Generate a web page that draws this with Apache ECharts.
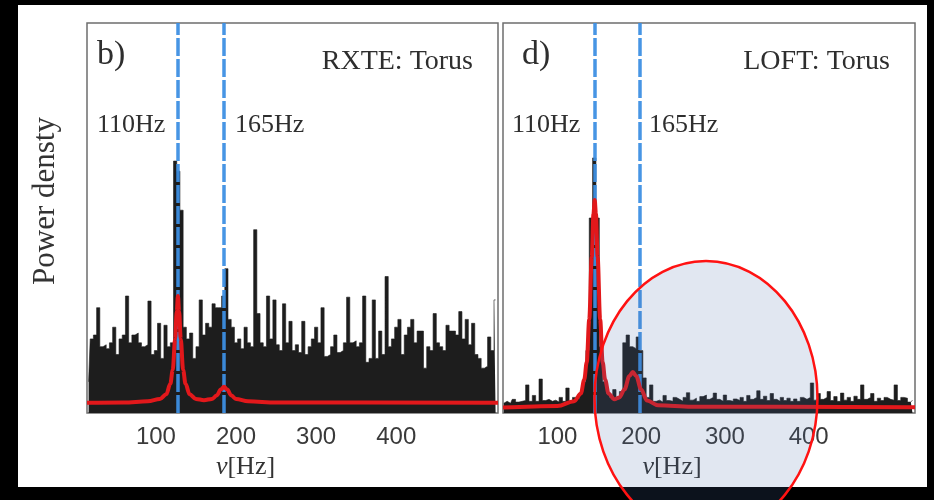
<!DOCTYPE html>
<html>
<head>
<meta charset="utf-8">
<script src="https://cdn.jsdelivr.net/npm/echarts@6/dist/echarts.min.js"></script>
<style>
html,body{margin:0;padding:0;background:#000;}
#chart{width:934px;height:500px;}
</style>
</head>
<body>
<div id="chart"></div>
<script>
// ---------- data ----------
const tickLabels = [100, 200, 300, 400];

// RXTE panel (b): frequency bins [Hz] and power density (arbitrary units)
const freqL = [
  16,20,24,28,32,36,40,44,
  48,52,56,60,64,68,72,76,
  80,84,88,92,96,100,104,108,
  112,116,120,124,128,132,136,140,
  144,148,152,156,160,164,168,172,
  176,180,184,188,192,196,200,204,
  208,212,216,220,224,228,232,236,
  240,244,248,252,256,260,264,268,
  272,276,280,284,288,292,296,300,
  304,308,312,316,320,324,328,332,
  336,340,344,348,352,356,360,364,
  368,372,376,380,384,388,392,396,
  400,404,408,412,416,420,424,428,
  432,436,440,444,448,452,456,460,
  464,468,472,476,480,484,488,492,
  496,500,504,508,512,516,520,524
];
const powL = [
  8,19,20,27,17,17.5,16.5,18,
  22,15,19,20,30,18,20,20.5,
  18,17,17.5,28.7,15,16,23,14,
  22.5,17,18,64.6,62,52,22,19,
  20.5,14,17,29,20,23,22,28,
  27,27,30,37,24,22,18,19,
  16.5,22,18,17,47,25.5,18,17,
  30,19,29,17.5,16,28,18,23.5,
  16,17.5,15.5,23.5,15,17,19,22,
  18,27,14.5,15,17,20,15.5,16,
  18,29.7,18,18.5,17,18,30,13,
  14,29,14,21,15,35,17,19,
  22,24,15,20,22,24,18,21,
  21,11.5,17,16,25.5,18,17,16,
  22.5,21,21,20,26,19,24,17.5,
  23,15,14,11.5,12,19.5,16,29
];
// Lorentzian fit (red) for RXTE panel
const fitLx = [14,60,90,105,113,118,121,124,126,127.5,129,131,134,137,142,150,160,170,176,181,185,189,194,200,215,250,527];
const fitLy = [2.6,2.7,3.0,3.6,4.8,7.5,11,19,26,30,26,19,11,7.5,4.8,3.6,3.3,3.6,4.5,6,6.7,6,4.5,3.6,3.0,2.7,2.6];
const linesL = [127.5, 185];

// LOFT panel (d)
const freqR = [
  36,40,44,48,52,56,60,64,
  68,72,76,80,84,88,92,96,
  100,104,108,112,116,120,124,128,
  132,136,140,144,148,152,156,160,
  164,168,172,176,180,184,188,192,
  196,200,204,208,212,216,220,224,
  228,232,236,240,244,248,252,256,
  260,264,268,272,276,280,284,288,
  292,296,300,304,308,312,316,320,
  324,328,332,336,340,344,348,352,
  356,360,364,368,372,376,380,384,
  388,392,396,400,404,408,412,416,
  420,424,428,432,436,440,444,448,
  452,456,460,464,468,472,476,480,
  484,488,492,496,500,504,508,512,
  516,520,524
];
const powR = [
  2.5,3,2.5,3.5,2.8,3,3.2,7.2,
  3,4.5,3,8.7,3.2,3.5,3,3.3,
  2.8,4,3,6.4,3,4,3.5,5,
  8,16,50,65.4,50,17,8,5,
  4,6,4,5.5,18,20,17,16.5,
  19.5,16,9,4,7.2,3,3.3,2.8,
  4.5,3.2,3,4,3.5,3,4,5.2,
  3.3,3.8,3,4.2,4.6,3.5,4,5.1,
  3.5,3,4.6,3.2,3,3.6,3.2,4,
  3,4.5,3.5,4,5.7,3.5,4.3,3.2,
  5,3.5,3,4,3.2,3.8,3,3.6,
  3,4,3.5,4,7.7,3.3,5,3.5,
  4,5.5,3.2,4.2,3,5.1,3.3,4,
  3,4.3,3.5,7.2,3.5,4,5,3,
  3.8,3.2,4,3.5,3.3,7.2,3.2,4,
  3.8,2.8,3.3
];
const fitRx = [35,100,120,128,132,135,138,141,143,144.5,146,148,151,154,157,161,168,174,180,186,190,194,200,207,220,260,527];
const fitRy = [1.4,1.8,3,5,8.5,13,24,40,51,54.6,51,40,24,13,8.5,5,3.5,4,6,9.5,10.5,9.5,6,3.2,2,1.6,1.5];
const linesR = [144.5, 198];

// ---------- helpers ----------
const zip = (a, b) => a.map((v, i) => [v, b[i]]);
const SERIF = '"Liberation Serif", "Times New Roman", serif';
const SANS = '"Liberation Sans", Arial, sans-serif';
const TXT = '#2e2e2e';

function xAxisFor(idx, min, max, padRight) {
  return {
    type: 'value', gridIndex: idx, min: min, max: max,
    splitLine: {show: false}, axisLine: {show: false}, axisTick: {show: false},
    axisLabel: {customValues: tickLabels, fontSize: 24, color: '#3a3a3a', fontFamily: SANS, margin: 12},
    name: '{i|ν}[Hz]', nameLocation: 'middle', nameGap: 39,
    nameTextStyle: {
      fontFamily: SERIF, fontSize: 26, color: '#333', padding: [0, padRight, 0, 0],
      rich: {i: {fontFamily: SERIF, fontStyle: 'italic', fontSize: 26, color: '#333'}}
    }
  };
}
function yAxisFor(idx, withName) {
  const a = {
    type: 'value', gridIndex: idx, min: 0, max: 100,
    splitLine: {show: false}, axisLine: {show: false}, axisTick: {show: false}, axisLabel: {show: false}
  };
  if (withName) {
    a.name = 'Power densty';
    a.nameLocation = 'middle';
    a.nameRotate = 90;
    a.nameGap = 26;
    a.nameTextStyle = {fontFamily: SERIF, fontSize: 31, color: '#333', padding: [0, 0, 0, 34]};
  }
  return a;
}
function spectrum(idx, fx, py, lines) {
  return {
    type: 'line', xAxisIndex: idx, yAxisIndex: idx, step: 'middle',
    data: zip(fx, py), symbol: 'none', z: 2,
    lineStyle: {color: '#1d1d1d', width: 0.6},
    areaStyle: {color: '#1d1d1d', opacity: 1},
    markLine: {
      silent: true, symbol: ['none', 'none'], z: 5, animation: false,
      label: {show: false},
      lineStyle: {type: [18, 3], color: '#3d8fe3', width: 3.5, opacity: 0.95},
      data: lines.map(v => ({xAxis: v}))
    }
  };
}
function fit(idx, fx, fy) {
  return {
    type: 'line', xAxisIndex: idx, yAxisIndex: idx, data: zip(fx, fy),
    symbol: 'none', smooth: 0.35, smoothMonotone: 'x', z: 6,
    lineStyle: {color: '#e2181b', width: 4}
  };
}
function txt(x, y, s, size, align) {
  return {type: 'text', x: x, y: y, z: 50,
    style: {text: s, fontFamily: SERIF, fontSize: size, fill: TXT, align: align || 'left', verticalAlign: 'middle'}};
}

const chart = echarts.init(document.getElementById('chart'), null, {renderer: 'canvas'});
chart.setOption({
  backgroundColor: '#000',
  animation: false,
  grid: [
    {left: 87, top: 23, width: 411, height: 390, show: true, borderColor: '#6e6e6e', borderWidth: 1.5, backgroundColor: 'transparent'},
    {left: 503, top: 23, width: 412, height: 390, show: true, borderColor: '#6e6e6e', borderWidth: 1.5, backgroundColor: 'transparent'}
  ],
  xAxis: [xAxisFor(0, 14, 527, 94), xAxisFor(1, 35, 527, 74)],
  yAxis: [yAxisFor(0, true), yAxisFor(1, false)],
  series: [
    spectrum(0, freqL, powL, linesL),
    fit(0, fitLx, fitLy),
    spectrum(1, freqR, powR, linesR),
    fit(1, fitRx, fitRy)
  ],
  graphic: [
    {type: 'rect', z: -10, silent: true, shape: {x: 18, y: 5, width: 909, height: 482}, style: {fill: '#fff'}},
    txt(97, 55, 'b)', 34),
    txt(473, 62, 'RXTE: Torus', 28, 'right'),
    txt(97, 125, '110Hz', 26),
    txt(235, 125, '165Hz', 26),
    txt(522, 55, 'd)', 34),
    txt(890, 62, 'LOFT: Torus', 28, 'right'),
    txt(512, 125, '110Hz', 26),
    txt(649, 125, '165Hz', 26),
    {type: 'ellipse', z: 100, silent: true,
      shape: {cx: 706, cy: 398, rx: 111.5, ry: 137},
      style: {fill: 'rgba(73,109,170,0.165)', stroke: '#ff1212', lineWidth: 2.5}}
  ]
});
</script>
</body>
</html>
